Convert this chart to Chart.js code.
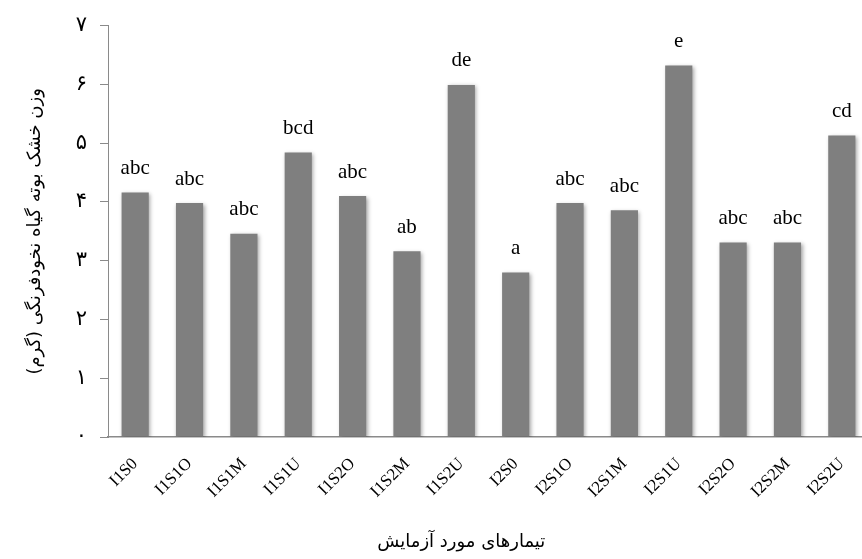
<!DOCTYPE html>
<html>
<head>
<meta charset="utf-8">
<script src="https://cdn.jsdelivr.net/npm/chart.js@4.4.1/dist/chart.umd.min.js"></script>
<style>
  html, body { margin: 0; padding: 0; background: #ffffff; overflow: hidden; }
  #wrap { width: 862px; height: 559px; overflow: hidden; position: relative; }
  #box { width: 870px; height: 559px; position: absolute; left: 0; top: 0; }
</style>
</head>
<body>
<div id="wrap"><div id="box"><canvas id="c"></canvas></div></div>
<script>
// Treatments
const categories = ['I1S0', 'I1S1O', 'I1S1M', 'I1S1U', 'I1S2O', 'I1S2M', 'I1S2U',
                    'I2S0', 'I2S1O', 'I2S1M', 'I2S1U', 'I2S2O', 'I2S2M', 'I2S2U'];
// Plant dry weight (g)
const dryWeight = [4.16, 3.98, 3.46, 4.84, 4.10, 3.16, 5.99,
                   2.80, 3.98, 3.86, 6.32, 3.31, 3.31, 5.13];
// Mean-comparison letters
const groupLetters = ['abc', 'abc', 'abc', 'bcd', 'abc', 'ab', 'de',
                      'a', 'abc', 'abc', 'e', 'abc', 'abc', 'cd'];
// Y tick labels in Persian digits
const yTickLabels = ['۰', '۱', '۲', '۳', '۴', '۵', '۶', '۷'];
const yTitle = 'وزن خشک بوته گیاه نخودفرنگی (گرم)';
const xTitle = 'تیمارهای مورد آزمایش';

const axisGray = '#8a8a8a';

// soft outer shadow on the bars
const barShadow = {
  id: 'barShadow',
  beforeDatasetsDraw(chart) {
    const ctx = chart.ctx;
    ctx.save();
    ctx.shadowColor = 'rgba(0,0,0,0.35)';
    ctx.shadowBlur = 4;
    ctx.shadowOffsetX = 1.5;
    ctx.shadowOffsetY = 1.5;
  },
  afterDatasetsDraw(chart) {
    chart.ctx.restore();
  }
};

// letters above each bar
const letterLabels = {
  id: 'letterLabels',
  afterDatasetsDraw(chart) {
    const ctx = chart.ctx;
    const meta = chart.getDatasetMeta(0);
    ctx.save();
    ctx.font = '21px "Liberation Serif", "Times New Roman", serif';
    ctx.fillStyle = '#000000';
    ctx.textAlign = 'center';
    ctx.textBaseline = 'middle';
    meta.data.forEach((bar, i) => {
      ctx.fillText(groupLetters[i], bar.x, bar.y - 24);
    });
    ctx.restore();
  }
};

// x axis title
const xAxisTitle = {
  id: 'xAxisTitle',
  afterDraw(chart) {
    const ctx = chart.ctx;
    const xs = chart.scales.x;
    ctx.save();
    ctx.font = '18px "DejaVu Sans", sans-serif';
    ctx.fillStyle = '#000000';
    ctx.textAlign = 'center';
    ctx.textBaseline = 'middle';
    ctx.direction = 'rtl';
    ctx.fillText(xTitle, xs.getPixelForValue(6), 542);
    ctx.restore();
  }
};

new Chart(document.getElementById('c'), {
  type: 'bar',
  data: {
    labels: categories,
    datasets: [{
      data: dryWeight,
      backgroundColor: '#7f7f7f',
      borderWidth: 0,
      categoryPercentage: 1.0,
      barPercentage: 0.5
    }]
  },
  options: {
    responsive: true,
    maintainAspectRatio: false,
    animation: false,
    layout: { padding: { top: 13, right: 1, bottom: 0, left: 0 } },
    plugins: {
      legend: { display: false },
      tooltip: { enabled: false }
    },
    scales: {
      x: {
        grid: { display: false },
        border: { display: true, color: axisGray, width: 1.5 },
        ticks: {
          color: '#000000',
          font: { family: '"Liberation Serif", "Times New Roman", serif', size: 17 },
          minRotation: 45,
          maxRotation: 45,
          padding: 9,
          autoSkip: false
        },
        afterFit(scale) { scale.height = 122; }
      },
      y: {
        min: 0,
        max: 7,
        grid: {
          display: true,
          drawOnChartArea: false,
          drawTicks: true,
          tickLength: 8,
          color: axisGray
        },
        border: { display: true, color: axisGray, width: 1 },
        ticks: {
          stepSize: 1,
          color: '#000000',
          padding: 13,
          font: { family: '"DejaVu Sans", sans-serif', size: 21 },
          callback: (v) => yTickLabels[v]
        },
        title: {
          display: true,
          text: yTitle,
          color: '#000000',
          font: { family: '"DejaVu Sans", sans-serif', size: 18 },
          padding: { top: 25, bottom: 0 }
        },
        afterFit(scale) { scale.width = 108; }
      }
    }
  },
  plugins: [barShadow, letterLabels, xAxisTitle]
});
</script>
</body>
</html>
